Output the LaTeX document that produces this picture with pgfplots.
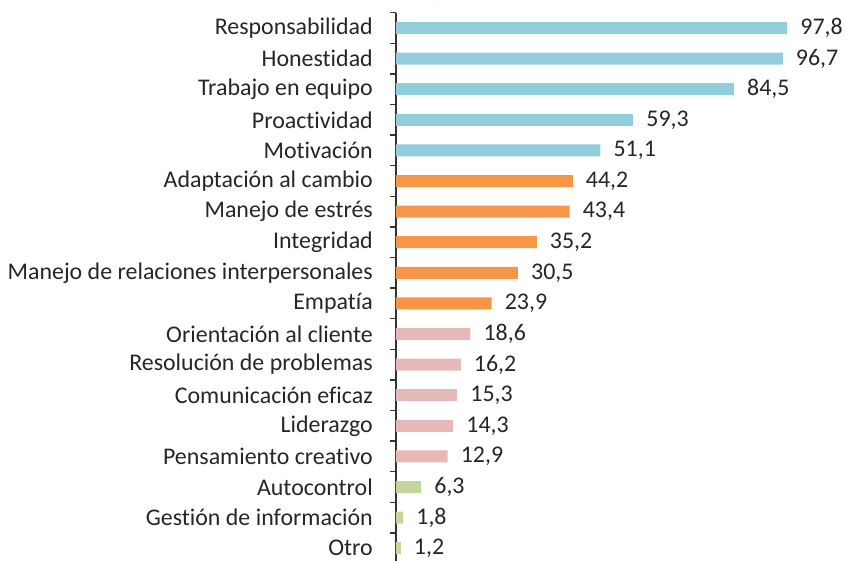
\documentclass[border=0pt]{standalone}
\usepackage{fontspec}
\setmainfont{Carlito}[Ligatures=NoCommon]
\usepackage{pgfplots}
\usepackage{pgfplotstable}
\pgfplotsset{compat=1.18}
\definecolor{cblue}{RGB}{146,205,220}
\definecolor{corange}{RGB}{247,150,70}
\definecolor{cpink}{RGB}{230,185,184}
\definecolor{cgreen}{RGB}{195,214,155}
\definecolor{txt}{RGB}{38,38,38}
\pgfplotstableread{
y v
0 97.8
1 96.7
2 84.5
3 59.3
4 51.1
}\tblue
\pgfplotstableread{
y v
5 44.2
6 43.4
7 35.2
8 30.5
9 23.9
}\torange
\pgfplotstableread{
y v
10 18.6
11 16.2
12 15.3
13 14.3
14 12.9
}\tpink
\pgfplotstableread{
y v
15 6.3
16 1.8
17 1.2
}\tgreen
\newcommand{\fs}{\fontsize{24}{28}\selectfont}
\begin{document}
\begin{tikzpicture}
\useasboundingbox (-396bp,2.5bp) rectangle (451bp,563.5bp);
\clip (-396bp,2.5bp) rectangle (451bp,563.5bp);
\begin{axis}[
  at={(0,0)}, anchor=south west,
  scale only axis,
  width=440bp, height=550.8bp,
  xmin=0, xmax=110,
  ymin=-0.5, ymax=17.5,
  y dir=reverse,
  xbar, bar width=12bp, bar shift=0pt,
  axis x line=none,
  axis y line*=left,
  axis line style={-, black!80, line width=1.3bp},
  ytick={0,...,17},
  yticklabels={Responsabilidad,Honestidad,Trabajo en equipo,Proactividad,Motivación,Adaptación al cambio,Manejo de estrés,Integridad,Manejo de relaciones interpersonales,Empatía,Orientación al cliente,Resolución de problemas,Comunicación eficaz,Liderazgo,Pensamiento creativo,Autocontrol,Gestión de información,Otro},
  major tick length=0pt,
  minor ytick={-0.5,0.5,...,17.5},
  minor tick length=6bp,
  tick align=outside,
  minor tick style={black!80, line width=1.3bp},
  yticklabel style={font=\fs, text=txt, inner sep=0pt, xshift=-23bp},
  /pgf/number format/.cd, fixed, fixed zerofill, precision=1, use comma, assume math mode=true,
  /pgfplots/.cd,
  nodes near coords,
  nodes near coords style={font=\fs, text=txt, anchor=west, inner sep=0pt, xshift=13bp},
  clip=false,
]
\addplot[fill=cblue, draw=none] table[x=v, y=y] {\tblue};
\addplot[fill=corange, draw=none] table[x=v, y=y] {\torange};
\addplot[fill=cpink, draw=none] table[x=v, y=y] {\tpink};
\addplot[fill=cgreen, draw=none] table[x=v, y=y] {\tgreen};
\end{axis}
\node[anchor=base, font=\fs, text=txt] at (4bp,567bp) {(Porcentaje)};
\end{tikzpicture}
\end{document}
